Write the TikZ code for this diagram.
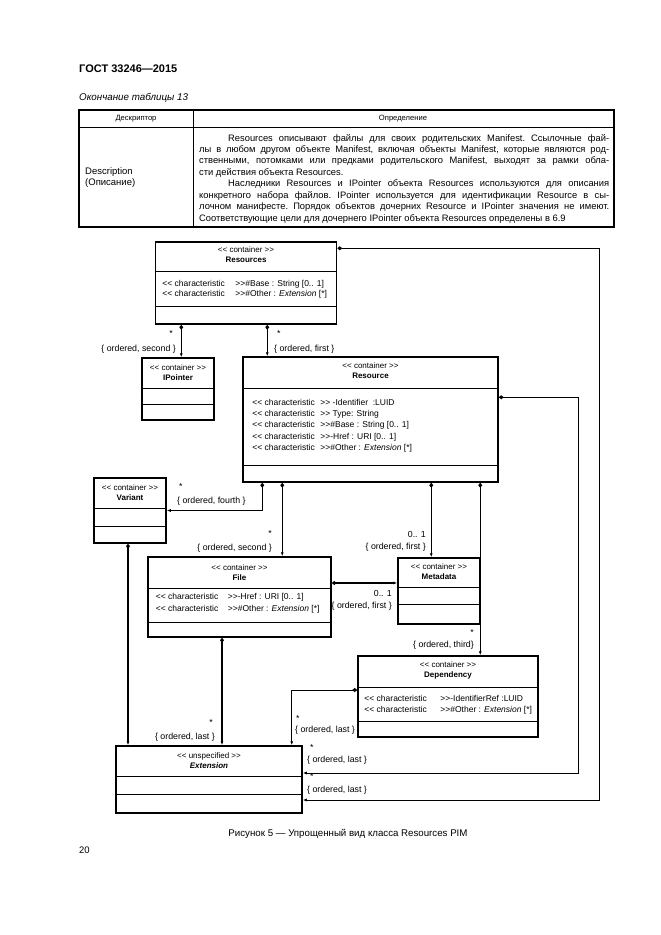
\documentclass[tikz,border=0pt]{standalone}
\usepackage{fontspec}
\setmainfont{Liberation Sans}
\usepackage{tikz}
\usetikzlibrary{arrows.meta,positioning}
\newcommand{\estereo}[1]{<{}< #1 >{}>}
\newcommand{\carac}[1][70pt]{\makebox[#1][l]{<{}< characteristic}}
\tikzstyle{clase} = [draw, line width=1.5pt, rectangle, inner sep=0pt]
\tikzstyle{division} = [line width=1pt]
\tikzstyle{titulo} = [align=center, inner sep=0pt, font=\fontsize{8}{10}\selectfont]
\tikzstyle{atributos} = [align=left, anchor=west, inner sep=0pt, font=\fontsize{8.5}{11}\selectfont]
\tikzstyle{etiqueta} = [inner sep=0pt, font=\fontsize{8.8}{15}\selectfont]
\tikzstyle{comp} = [{Diamond[length=5pt,width=4pt]}-{Latex[length=4pt,width=3pt]}, line width=1.5pt]
\tikzstyle{compfina} = [{Diamond[length=5pt,width=4pt]}-{Latex[length=4pt,width=3pt]}, line width=0.8pt]
\begin{document}
\begin{tikzpicture}[x=1pt,y=-1pt]
\fill[white] (0,0) rectangle (661,935);
\useasboundingbox (0,0) rectangle (661,935);
% cabecera y tabla
\node[anchor=base west, inner sep=0pt, font=\bfseries\fontsize{11}{13}\selectfont] (gost) at (79,72) {ГОСТ 33246—2015};
\node[anchor=base west, inner sep=0pt, font=\itshape\fontsize{9.8}{11}\selectfont] (tabla) at (79,100) {Окончание таблицы 13};
\draw[line width=1.2pt] (79,110) rectangle (614,227);
\draw[line width=0.8pt] (79,127) -- (614,127);
\draw[line width=0.8pt] (193,110) -- (193,227);
\node[font=\fontsize{7.6}{8}\selectfont] (descriptor) at (136,119) {Дескриптор};
\node[font=\fontsize{7.6}{8}\selectfont] (definicion) at (403,119) {Определение};
\node[anchor=west, align=left, inner sep=0pt, font=\fontsize{9.5}{11.4}\selectfont] (description) at (85,177.5) {Description\\(Описание)};
\node[anchor=base west, inner sep=0pt, font=\fontsize{9.35}{11.43}\selectfont] (texto) at (199,141) {%
\begin{minipage}[t]{410pt}
\frenchspacing
\setlength{\parindent}{29pt}
Resources описывают файлы для своих родительских Manifest. Ссылочные фай-\linebreak
лы в любом другом объекте Manifest, включая объекты Manifest, которые являются род-\linebreak
ственными, потомками или предками родительского Manifest, выходят за рамки обла-\linebreak
сти действия объекта Resources.

Наследники Resources и IPointer объекта Resources используются для описания\linebreak
конкретного набора файлов. IPointer используется для идентификации Resource в сы-\linebreak
лочном манифесте. Порядок объектов дочерних Resource и IPointer значения не имеют.\linebreak
Соответствующие цели для дочернего IPointer объекта Resources определены в 6.9
\end{minipage}};
% clases
\node[clase, minimum width=181pt, minimum height=82pt] (resources) at (246,283) {};
\node[clase, minimum width=72pt, minimum height=62pt] (ipointer) at (178,389) {};
\node[clase, minimum width=255pt, minimum height=125pt] (resource) at (370.5,419.5) {};
\node[clase, minimum width=72pt, minimum height=65pt] (variant) at (130,510.5) {};
\node[clase, minimum width=183pt, minimum height=80pt] (file) at (239.5,597) {};
\node[clase, minimum width=82pt, minimum height=66pt] (metadata) at (439,591) {};
\node[clase, minimum width=180pt, minimum height=81pt] (dependency) at (448,696.5) {};
\node[clase, minimum width=186pt, minimum height=67pt] (extension) at (209,779.5) {};
\draw[division] ([yshift=-30pt]resources.north west) -- ([yshift=-30pt]resources.north east);
\draw[division] ([yshift=-65pt]resources.north west) -- ([yshift=-65pt]resources.north east);
\draw[division] ([yshift=-31pt]ipointer.north west) -- ([yshift=-31pt]ipointer.north east);
\draw[division] ([yshift=-47pt]ipointer.north west) -- ([yshift=-47pt]ipointer.north east);
\draw[division] ([yshift=-32pt]resource.north west) -- ([yshift=-32pt]resource.north east);
\draw[division] ([yshift=-109pt]resource.north west) -- ([yshift=-109pt]resource.north east);
\draw[division] ([yshift=-31pt]variant.north west) -- ([yshift=-31pt]variant.north east);
\draw[division] ([yshift=-49pt]variant.north west) -- ([yshift=-49pt]variant.north east);
\draw[division] ([yshift=-32pt]file.north west) -- ([yshift=-32pt]file.north east);
\draw[division] ([yshift=-66pt]file.north west) -- ([yshift=-66pt]file.north east);
\draw[division] ([yshift=-30pt]metadata.north west) -- ([yshift=-30pt]metadata.north east);
\draw[division] ([yshift=-47pt]metadata.north west) -- ([yshift=-47pt]metadata.north east);
\draw[division] ([yshift=-32pt]dependency.north west) -- ([yshift=-32pt]dependency.north east);
\draw[division] ([yshift=-66pt]dependency.north west) -- ([yshift=-66pt]dependency.north east);
\draw[division] ([yshift=-31pt]extension.north west) -- ([yshift=-31pt]extension.north east);
\draw[division] ([yshift=-49pt]extension.north west) -- ([yshift=-49pt]extension.north east);
\node[titulo] (resources-t) at ([yshift=-13pt]resources.north) {\estereo{container}\\\textbf{Resources}};
\node[titulo] (ipointer-t) at ([yshift=-15pt]ipointer.north) {\estereo{container}\\\textbf{IPointer}};
\node[titulo] (resource-t) at ([yshift=-14.5pt]resource.north) {\estereo{container}\\\textbf{Resource}};
\node[titulo] (variant-t) at ([yshift=-15pt]variant.north) {\estereo{container}\\\textbf{Variant}};
\node[titulo] (file-t) at ([yshift=-16pt]file.north) {\estereo{container}\\\textbf{File}};
\node[titulo] (metadata-t) at ([yshift=-14.5pt]metadata.north) {\estereo{container}\\\textbf{Metadata}};
\node[titulo] (dependency-t) at ([yshift=-15.5pt]dependency.north) {\estereo{container}\\\textbf{Dependency}};
\node[titulo] (extension-t) at ([yshift=-15.5pt]extension.north) {\estereo{unspecified}\\\textbf{\textit{Extension}}};
\node[atributos, font=\fontsize{8.5}{10}\selectfont] (resources-a) at ([xshift=7.5pt,yshift=-48pt]resources.north west) {\carac[73pt]>{}>\#Base : String [0.. 1]\\\carac[73pt]>{}>\#Other : \textit{Extension} [*]};
\node[atributos, font=\fontsize{8.5}{11.2}\selectfont] (resource-a) at ([xshift=10pt,yshift=-69.5pt]resource.north west) {\carac[68pt]>{}> -Identifier\ \ :LUID\\\carac[68pt]>{}> Type: String\\\carac[68pt]>{}>\#Base : String [0.. 1]\\\carac[68pt]>{}>-Href : URI [0.. 1]\\\carac[68pt]>{}>\#Other : \textit{Extension} [*]};
\node[atributos, font=\fontsize{8.5}{11.7}\selectfont] (file-a) at ([xshift=8.5pt,yshift=-47pt]file.north west) {\carac[72pt]>{}>-Href : URI [0.. 1]\\\carac[72pt]>{}>\#Other : \textit{Extension} [*]};
\node[atributos] (dependency-a) at ([xshift=7pt,yshift=-49.5pt]dependency.north west) {\carac[76pt]>{}>-IdentifierRef :LUID\\\carac[76pt]>{}>\#Other : \textit{Extension} [*]};
% conectores
\draw[comp] ([xshift=26.5pt]resources.south west) -- ([xshift=26.5pt]resources.south west |- ipointer.north);
\draw[comp] ([xshift=112.5pt]resources.south west) -- ([xshift=112.5pt]resources.south west |- resource.north);
\draw[compfina] ([yshift=-7pt]resources.north east) -- ++(262,0) |- ([yshift=-20.5pt]extension.east);
\draw[compfina, line width=1pt] ([yshift=-41pt]resource.north east) -- ++(80,0) |- ([yshift=6.5pt]extension.east);
\draw[compfina] ([xshift=20pt]resource.south west) |- (variant.east);
\draw[comp] ([xshift=40pt]resource.south west) -- ([xshift=40pt]resource.south west |- file.north);
\draw[compfina] ([xshift=189pt]resource.south west) -- ([xshift=189pt]resource.south west |- metadata.north);
\draw[compfina] ([xshift=238pt]resource.south west) -- ([xshift=238pt]resource.south west |- dependency.north);
\draw[comp] ([yshift=14pt]file.east) -- ([yshift=14pt]file.east -| metadata.west);
\draw[comp] ([xshift=-2pt]variant.south) -- ([xshift=-2pt]variant.south |- extension.north);
\draw[comp] ([xshift=-17.5pt]file.south) -- ([xshift=-17.5pt]file.south |- extension.north);
\draw[compfina] ([yshift=6.5pt]dependency.west) -| ([xshift=-11pt]extension.north east);
% etiquetas
\node[etiqueta, align=right, anchor=east] (e-ipointer) at (176,341.5) {*\hspace*{3pt}\\\{ ordered, second \}};
\node[etiqueta, align=left, anchor=west] (e-resource) at (274,341.5) {\hspace*{3pt}*\\\{ ordered, first \}};
\node[etiqueta, align=left, anchor=west, font=\fontsize{8.8}{14}\selectfont] (e-variant) at (177,494) {\hspace*{2pt}*\\\{ ordered, fourth \}};
\node[etiqueta, align=right, anchor=east, font=\fontsize{8.8}{14}\selectfont] (e-file) at (272,541) {*\\\{ ordered, second \}};
\node[etiqueta, align=right, anchor=east, font=\fontsize{8.8}{11.5}\selectfont] (e-metadata) at (426,541.5) {0.. 1\\\{ ordered, first \}};
\node[etiqueta, align=right, anchor=east, font=\fontsize{8.8}{11.5}\selectfont] (e-filemeta) at (392,600.5) {0.. 1\\\{ ordered, first \}};
\node[etiqueta, align=right, anchor=east, font=\fontsize{8.8}{12}\selectfont] (e-dependency) at (474,639) {*\\\{ ordered, third\}};
\node[etiqueta, align=left, anchor=west, font=\fontsize{8.8}{11}\selectfont] (e-depext) at (295,725) {\hspace*{1pt}*\\\{ ordered, last \}};
\node[etiqueta, align=right, anchor=east, font=\fontsize{8.8}{14}\selectfont] (e-fileext) at (215,730) {*\hspace*{2pt}\\\{ ordered, last \}};
\node[etiqueta, align=left, anchor=west, font=\fontsize{8.8}{12}\selectfont] (e-resext) at (307,754) {\hspace*{3pt}*\\\{ ordered, last \}};
\node[etiqueta, align=left, anchor=west, font=\fontsize{8.8}{13}\selectfont] (e-resourcesext) at (307,783.5) {\hspace*{3pt}*\\\{ ordered, last \}};
% pie
\node[anchor=base, inner sep=0pt, font=\fontsize{9.7}{11}\selectfont] (pie) at (348,836) {Рисунок 5 — Упрощенный вид класса Resources PIM};
\node[anchor=base west, inner sep=0pt, font=\fontsize{9.5}{11}\selectfont] (pagina) at (79,853) {20};
\end{tikzpicture}
\end{document}
